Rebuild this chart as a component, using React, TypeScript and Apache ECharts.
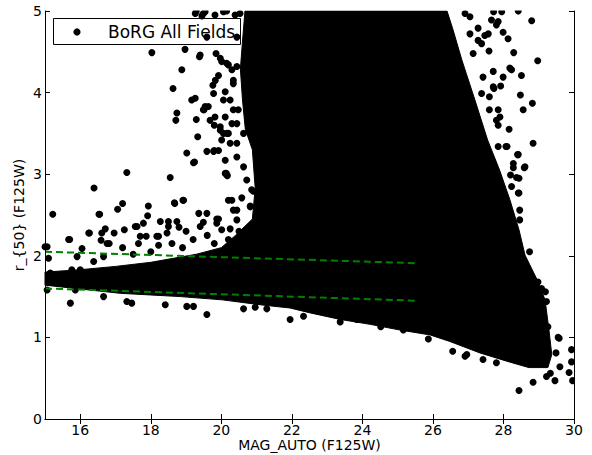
import React, { useEffect, useRef } from "react";
import * as echarts from "echarts";

// Axis ticks
const xTicks = [16, 18, 20, 22, 24, 26, 28, 30];
const yTicks = [0, 1, 2, 3, 4, 5];

// Outline of the saturated (fully overlapping) region of points, [MAG_AUTO, r50]
const coreOutline: [number, number][] = [
  [20.67, 5.0], [26.4, 5.0], [26.57, 4.77], [26.82, 4.4], [27.19, 3.91], [27.55, 3.42],
  [27.89, 3.05], [28.18, 2.69], [28.44, 2.32], [28.61, 2.01], [28.95, 1.71], [29.18, 1.46],
  [29.29, 1.09], [29.37, 0.79], [29.26, 0.63], [28.72, 0.63], [28.16, 0.7], [27.33, 0.81],
  [26.48, 0.95], [25.92, 1.03], [25.07, 1.09], [24.22, 1.16], [23.37, 1.22], [22.52, 1.3],
  [21.95, 1.36], [21.1, 1.4], [20.03, 1.46], [18.84, 1.5], [17.99, 1.52], [17.14, 1.54],
  [16.28, 1.58], [15.0, 1.64], [15.0, 1.8], [16.0, 1.83], [17.0, 1.87], [18.0, 1.92],
  [19.3, 2.02], [20.0, 2.1], [20.4, 2.25], [20.88, 2.45], [20.96, 2.83], [20.88, 3.3],
  [20.68, 3.55], [20.6, 3.91], [20.54, 4.29], [20.6, 4.63],
];

// Individually visible points around the saturated region
const leftPoints: [number, number][] = [
  [18.03, 4.49], [18.63, 4.05], [18.74, 3.75], [18.71, 3.66], [18.88, 4.28], [18.97, 4.53],
  [19.16, 3.91], [19.38, 4.44], [19.29, 3.67], [19.33, 3.46], [19.02, 3.26], [19.24, 3.15],
  [18.55, 2.96], [17.32, 3.02], [16.39, 2.83], [16.53, 2.51], [15.22, 2.51], [17.06, 2.57],
  [17.2, 2.64], [17.93, 2.61], [18.68, 2.64], [18.91, 2.68], [19.36, 2.52], [19.59, 2.52],
  [19.29, 5.0], [19.45, 4.94], [19.59, 4.68], [19.78, 3.99], [19.76, 4.09], [19.85, 4.48],
  [19.97, 4.42], [19.51, 3.79], [19.63, 3.83], [19.68, 3.66], [19.8, 3.6], [19.59, 3.28],
  [19.78, 3.28], [19.97, 3.54], [20.16, 3.5], [20.11, 3.01], [20.2, 2.68], [20.3, 2.68],
  [19.87, 2.45], [20.01, 4.38], [20.2, 4.34], [19.83, 4.15], [19.92, 4.21], [19.54, 3.83],
  [20.11, 3.7], [20.25, 3.91], [20.34, 4.15], [20.11, 4.01], [20.44, 4.32], [19.49, 4.97],
  [20.15, 5.0], [20.53, 4.97], [20.01, 3.42], [20.2, 3.5], [20.3, 3.62], [20.44, 3.38],
  [20.63, 3.5], [20.48, 3.79], [19.21, 3.14], [19.8, 3.29], [19.92, 3.29], [20.14, 3.01],
  [20.17, 2.98], [18.67, 2.65], [18.93, 2.68], [19.49, 2.41], [19.92, 2.45], [20.44, 2.56],
  [20.58, 2.71], [20.82, 2.61], [20.91, 2.79], [20.01, 2.32], [20.25, 2.33], [18.27, 2.42],
  [18.5, 2.42], [18.74, 2.42], [18.17, 2.24], [16.55, 2.51], [17.91, 2.49], [16.26, 2.28],
  [16.61, 2.28], [16.71, 2.33], [16.96, 2.28], [17.25, 2.32], [17.56, 2.36], [17.79, 2.4],
  [15.7, 2.2], [16.59, 2.19], [16.82, 2.15], [17.65, 2.15], [17.7, 2.24], [17.87, 2.24],
  [18.22, 2.24], [18.22, 2.13], [18.46, 2.28], [16.05, 2.09], [15.0, 2.11], [15.91, 1.99],
  [16.38, 1.93], [16.66, 1.99], [15.72, 1.42], [16.66, 1.5], [17.32, 1.44], [18.41, 1.4],
  [19.02, 1.38], [19.21, 1.38], [15.67, 2.2], [16.24, 2.28], [15.06, 2.11], [16.76, 2.15],
  [19.59, 1.28], [20.63, 1.35], [20.96, 1.37], [21.29, 1.35], [17.46, 1.42], [17.61, 2.36],
  [18.5, 2.36], [19.4, 2.36], [19.87, 2.4], [20.39, 2.13], [20.63, 2.28], [19.4, 4.46],
  [20.15, 4.36], [19.49, 3.79], [19.26, 3.93], [20.3, 4.28], [20.34, 4.11], [20.06, 3.91],
  [19.82, 3.7], [20.34, 3.79], [20.44, 3.62], [19.97, 3.58], [19.26, 4.97], [19.54, 4.99],
  [19.82, 4.95], [20.06, 4.99], [20.39, 4.95], [20.72, 4.6], [20.44, 4.68], [20.06, 3.5],
  [20.25, 3.38], [20.11, 3.17], [20.16, 2.99], [20.44, 3.21], [20.63, 3.09], [20.72, 2.93],
  [20.86, 2.81], [20.82, 2.6], [20.34, 2.56], [20.44, 2.44], [20.5, 2.3], [20.7, 2.2],
  [20.2, 2.2], [19.8, 2.15], [19.6, 2.25], [19.2, 2.2], [18.9, 2.1], [18.6, 2.15],
  [18.0, 2.05], [17.5, 2.02], [17.2, 2.1], [19.0, 2.3], [18.8, 2.35], [15.1, 1.97],
  [15.15, 1.79], [15.38, 1.7], [15.58, 1.66], [15.76, 1.83], [16.0, 1.83], [15.91, 1.66],
  [15.06, 1.58], [15.86, 1.58],
];

const rightPoints: [number, number][] = [
  [28.42, 5.0], [28.8, 4.88], [28.97, 4.39], [28.29, 4.49], [28.51, 4.21], [28.23, 4.28],
  [28.18, 4.3], [28.48, 3.97], [28.82, 3.87], [28.56, 3.79], [28.16, 3.55], [28.84, 3.38],
  [28.42, 3.24], [28.61, 3.09], [28.28, 3.08], [28.44, 2.95], [28.44, 2.77], [27.59, 4.51],
  [27.71, 4.26], [27.99, 4.19], [27.92, 4.08], [27.85, 3.79], [27.8, 3.66], [28.07, 3.34],
  [27.85, 3.34], [27.8, 4.83], [27.99, 4.74], [27.66, 4.89], [27.85, 4.87], [27.28, 4.64],
  [27.38, 4.6], [27.14, 4.48], [27.57, 4.72], [26.91, 4.97], [27.05, 4.93], [27.42, 4.19],
  [27.73, 4.05], [27.38, 3.99], [27.6, 3.79], [27.72, 4.99], [27.95, 4.99], [27.9, 3.7],
  [27.6, 3.95], [27.71, 4.07], [27.05, 4.72], [27.28, 4.79], [27.47, 4.7], [28.13, 4.66],
  [27.85, 3.6], [28.1, 3.34], [28.4, 3.24], [28.28, 3.13], [28.59, 3.08], [28.2, 2.99],
  [28.37, 2.96], [28.23, 2.85], [28.42, 2.77], [28.46, 2.56], [28.46, 2.44], [28.74, 2.05],
  [28.98, 1.68], [29.08, 1.6], [29.19, 1.56], [29.22, 1.44], [29.26, 1.13],
];

const bottomPoints: [number, number][] = [
  [29.55, 1.0], [29.93, 0.85], [29.93, 0.7], [29.86, 0.57], [29.96, 0.47], [28.44, 0.35],
  [28.84, 0.45], [29.46, 0.47], [29.33, 0.56], [29.6, 0.64], [29.49, 0.81], [25.87, 0.98],
  [26.56, 0.83], [26.96, 0.79], [24.52, 1.13], [21.95, 1.22], [22.33, 1.26], [23.37, 1.19],
  [23.84, 1.22], [25.16, 1.09], [26.91, 0.77], [27.42, 0.73], [27.8, 0.69], [29.22, 0.52],
  [29.58, 0.99],
];

// Green dashed selection lines
const upperCut: [number, number][] = [[15, 2.05], [25.5, 1.91]];
const lowerCut: [number, number][] = [[15, 1.6], [25.5, 1.45]];

const FONT = "DejaVu Sans";

export default function App() {
  const ref = useRef<HTMLDivElement>(null);
  useEffect(() => {
    if (!ref.current) return;
    const chart = echarts.init(ref.current, null, { renderer: "svg" });
    const axisLine = { show: true, lineStyle: { color: "#000", width: 1 } };
    const tick = (vals: number[]) => ({
      show: true,
      inside: true,
      length: 5,
      customValues: vals,
      lineStyle: { color: "#000", width: 1 },
    });
    chart.setOption({
      animation: false,
      backgroundColor: "#fff",
      grid: { left: 45, right: 18, top: 11, bottom: 36, containLabel: false, outerBoundsMode: "none" },
      xAxis: [
        {
          type: "value",
          min: 15,
          max: 30,
          position: "bottom",
          axisLine,
          axisTick: tick(xTicks),
          axisLabel: { customValues: xTicks, color: "#000", fontSize: 14, fontFamily: FONT, margin: 4 },
          splitLine: { show: false },
          name: "MAG_AUTO (F125W)",
          nameLocation: "middle",
          nameGap: 19,
          nameMoveOverlap: false,
          nameTextStyle: { color: "#000", fontSize: 14, fontFamily: FONT },
          z: 10,
        },
        {
          type: "value",
          min: 15,
          max: 30,
          position: "top",
          axisLine,
          axisTick: tick(xTicks),
          axisLabel: { show: false },
          splitLine: { show: false },
          z: 10,
        },
      ],
      yAxis: [
        {
          type: "value",
          min: 0,
          max: 5,
          interval: 1,
          position: "left",
          axisLine,
          axisTick: tick(yTicks),
          axisLabel: { customValues: yTicks, color: "#000", fontSize: 14, fontFamily: FONT, margin: 3 },
          splitLine: { show: false },
          name: "r_{50} (F125W)",
          nameLocation: "middle",
          nameGap: 19,
          nameMoveOverlap: false,
          nameTextStyle: { color: "#000", fontSize: 14, fontFamily: FONT },
          z: 10,
        },
        {
          type: "value",
          min: 0,
          max: 5,
          interval: 1,
          position: "right",
          axisLine,
          axisTick: tick(yTicks),
          axisLabel: { show: false },
          splitLine: { show: false },
          z: 10,
        },
      ],
      series: [
        {
          type: "custom",
          name: "core",
          coordinateSystem: "cartesian2d",
          xAxisIndex: 0,
          yAxisIndex: 0,
          silent: true,
          data: [[20, 2]],
          renderItem: (_p: any, api: any) => ({
            type: "polygon",
            shape: { points: coreOutline.map((pt) => api.coord(pt)) },
            style: { fill: "#000", stroke: "#000", lineWidth: 1 },
          }),
          z: 2,
        },
        {
          type: "scatter",
          name: "BoRG All Fields",
          data: [...leftPoints, ...rightPoints, ...bottomPoints],
          symbol: "circle",
          symbolSize: 7,
          itemStyle: { color: "#000", opacity: 1 },
          silent: true,
          z: 2,
        },
        {
          type: "line",
          data: upperCut,
          symbol: "none",
          silent: true,
          lineStyle: { color: "#008000", width: 2, type: [7, 4] },
          z: 4,
        },
        {
          type: "line",
          data: lowerCut,
          symbol: "none",
          silent: true,
          lineStyle: { color: "#008000", width: 2, type: [7, 4] },
          z: 4,
        },
      ],
      graphic: [
        { type: "rect", z: 5, silent: true, shape: { x: 0, y: 0, width: 592, height: 10.5 }, style: { fill: "#fff" } },
        { type: "rect", z: 5, silent: true, shape: { x: 574.5, y: 0, width: 18, height: 455 }, style: { fill: "#fff" } },
        { type: "rect", z: 5, silent: true, shape: { x: 0, y: 419.5, width: 592, height: 36 }, style: { fill: "#fff" } },
        {
          type: "group",
          z: 20,
          children: [
            {
              type: "rect",
              shape: { x: 53.5, y: 18.5, width: 187, height: 26 },
              style: { fill: "#fff", stroke: "#000", lineWidth: 1 },
            },
            { type: "circle", shape: { cx: 77, cy: 32, r: 3.6 }, style: { fill: "#000" } },
            {
              type: "text",
              x: 108,
              y: 32,
              style: {
                text: "BoRG All Fields",
                font: `17px '${FONT}'`,
                fill: "#000",
                textVerticalAlign: "middle",
                verticalAlign: "middle",
              },
            },
          ],
        },
      ],
    });
    return () => chart.dispose();
  }, []);
  return (
    <div
      ref={ref}
      style={{ position: "fixed", left: 0, top: 0, width: 592, height: 455, background: "#fff" }}
    />
  );
}
